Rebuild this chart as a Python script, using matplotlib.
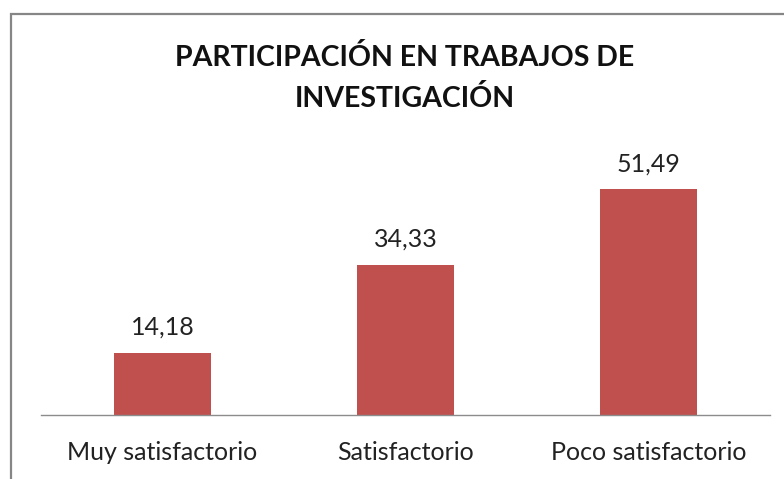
import matplotlib.pyplot as plt
from matplotlib.patches import Rectangle

categories = ["Muy satisfactorio", "Satisfactorio", "Poco satisfactorio"]
values = [14.18, 34.33, 51.49]
value_labels = ["14,18", "34,33", "51,49"]
title = "PARTICIPACIÓN EN TRABAJOS DE\nINVESTIGACIÓN"

plt.rcParams["font.family"] = ["Lato", "DejaVu Sans"]

W, H = 784, 479
fig = plt.figure(figsize=(W / 100, H / 100), dpi=100)

# chart border, only the left and top edges are visible in the reference
fig.patches.append(
    Rectangle((11 / W, -0.1), 1.2, (H - 14) / H + 0.1, transform=fig.transFigure,
              fill=False, edgecolor="#868686", linewidth=1.6)
)

# axes: baseline at y=415, x from 41 to 770
left, right = 41 / W, 770 / W
bottom, top = (H - 415) / H, (H - 152) / H
ax = fig.add_axes([left, bottom, right - left, top - bottom])

x = range(len(categories))
ax.bar(x, values, width=0.4, color="#C0504D")
ax.set_xlim(-0.5, len(categories) - 0.5)
ax.set_ylim(0, 60)

for xi, v, lab in zip(x, values, value_labels):
    ax.annotate(lab, (xi, v), xytext=(0, 10), textcoords="offset points",
                ha="center", va="bottom", fontsize=18, color="#222222")

ax.set_xticks(list(x))
ax.set_xticklabels(categories, fontsize=18, color="#222222")
ax.tick_params(axis="x", length=0, pad=19)
ax.set_yticks([])
for s in ["top", "right", "left"]:
    ax.spines[s].set_visible(False)
ax.spines["bottom"].set_color("#8c8c8c")
ax.spines["bottom"].set_linewidth(1.0)

fig.text(405 / W, (H - 78) / H, title, ha="center", va="center",
         fontsize=20.5, fontweight="bold", color="#111111", linespacing=1.6)

fig.savefig("out.png", dpi=100)
